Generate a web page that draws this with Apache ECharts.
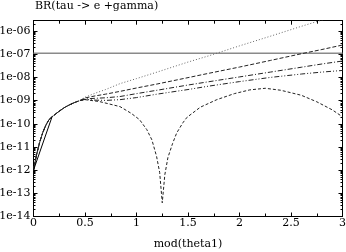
<!DOCTYPE html>
<html>
<head>
<meta charset="utf-8">
<script src="https://cdn.jsdelivr.net/npm/echarts@6/dist/echarts.min.js"></script>
<style>
html,body{margin:0;padding:0;background:#fff;}
#c{width:346px;height:252px;}
</style>
</head>
<body>
<div id="c"></div>
<script>
// ---- data (BR values) ----
const titleText = 'BR(tau -> e +gamma)';
const xName = 'mod(theta1)';
const xTicks = [0, 0.5, 1, 1.5, 2, 2.5, 3];
const yTickExponents = [-14, -13, -12, -11, -10, -9, -8, -7, -6];
const yTop = 2.8e-6;
const yBottom = 1e-14;

// common rising part shared by the curves
const xStart = [0, 0.03, 0.06, 0.09, 0.12, 0.15, 0.18, 0.25, 0.3, 0.35, 0.4, 0.45];
const brStart = [1.0e-12, 4.7e-12, 1.6e-11, 4.2e-11, 8.7e-11, 1.5e-10, 2.0e-10, 3.5e-10, 5.0e-10, 6.6e-10, 8.3e-10, 1.0e-9];

// upper curves
const xUpper = [0.5, 0.6, 0.7, 0.84, 1.0, 1.2, 1.5, 1.7, 2.0, 2.3, 2.6, 2.8, 3.0];
const brDotted = [1.4e-9, 2.1e-9, 3.0e-9, 5.4e-9, 8.9e-9, 1.7e-8, 4.6e-8, 8.5e-8, 2.3e-7, 6.0e-7, 1.6e-6, 3.0e-6, 5.6e-6];
const brDashed = [1.3e-9, 1.6e-9, 1.9e-9, 2.5e-9, 3.5e-9, 5.2e-9, 9.8e-9, 1.5e-8, 2.8e-8, 5.4e-8, 1.05e-7, 1.6e-7, 2.5e-7];
const brDashDot = [1.18e-9, 1.26e-9, 1.32e-9, 1.5e-9, 2.0e-9, 2.8e-9, 4.7e-9, 6.5e-9, 1.05e-8, 1.7e-8, 2.75e-8, 3.8e-8, 5.1e-8];
const brDashDotDot = [1.12e-9, 1.05e-9, 1.02e-9, 1.1e-9, 1.35e-9, 1.9e-9, 3.0e-9, 4.2e-9, 6.6e-9, 1.0e-8, 1.4e-8, 1.7e-8, 2.0e-8];

// lower curve with the dip
const xLower = [0.5, 0.64, 0.84, 0.95, 1.03, 1.1, 1.15, 1.195, 1.225, 1.25, 1.275, 1.305, 1.35, 1.39, 1.45, 1.49, 1.62, 1.78, 1.95, 2.1, 2.25, 2.4, 2.6, 2.75, 2.9, 3.0];
const brLower = [1.1e-9, 9.1e-10, 5.5e-10, 2.8e-10, 1.5e-10, 5.6e-11, 2.0e-11, 3.9e-12, 7.9e-13, 3.9e-14, 6.3e-13, 3.5e-12, 1.4e-11, 4.0e-11, 1.1e-10, 1.9e-10, 5.2e-10, 1.1e-9, 2.0e-9, 2.9e-9, 3.4e-9, 2.8e-9, 1.7e-9, 8.9e-10, 4.0e-10, 2.0e-10];

// solid segment
const xSolid = [0, 0.18];
const brSolid = [1.0e-12, 2.0e-10];

// experimental limit
const xLimit = [0, 3];
const brLimit = [1.1e-7, 1.1e-7];

// ---- build ----
const lg = Math.log10;
function pairs(xs, ys) { return xs.map((x, i) => [x, lg(ys[i])]); }
function withStart(xs, ys) { return pairs(xStart.concat(xs), brStart.concat(ys)); }

const yMin = lg(yBottom), yMax = lg(yTop);
const minorLog = [];
for (const e of yTickExponents) for (let k = 2; k <= 9; k++) { const v = e + lg(k); if (v < yMax) minorLog.push(v); }

const FONT = 'DejaVu Serif';
const txt = { fontFamily: FONT, fontSize: 11, color: '#000' };
function fmtY(v) {
  const r = Math.round(v);
  if (Math.abs(v - r) > 1e-6) return '';
  return '1e' + (r < 0 ? '-' : '+') + String(Math.abs(r)).padStart(2, '0');
}
const axLine = { show: true, lineStyle: { color: '#000', width: 1 } };

function xAx(pos, labels) {
  return {
    type: 'value', position: pos, min: 0, max: 3, interval: 0.5,
    axisLine: axLine,
    axisTick: { show: true, inside: true, length: 4, lineStyle: { color: '#000' } },
    minorTick: { show: true, splitNumber: 2, length: 3, lineStyle: { color: '#000' } },
    splitLine: { show: false }, minorSplitLine: { show: false },
    axisLabel: labels ? Object.assign({ show: true, margin: 1, formatter: v => String(v) }, txt) : { show: false },
    name: labels ? xName : '', nameLocation: 'middle', nameGap: 22, nameTextStyle: txt
  };
}
function yAx(pos, kind) {
  const base = { type: 'value', position: pos, min: yMin, max: yMax, splitLine: { show: false } };
  if (kind === 'major') {
    return Object.assign(base, {
      interval: 1,
      axisLine: axLine,
      axisTick: { show: true, inside: true, length: 4, lineStyle: { color: '#000' } },
      axisLabel: pos === 'left' ? Object.assign({ show: true, margin: 3, formatter: fmtY, showMaxLabel: false }, txt) : { show: false }
    });
  }
  return Object.assign(base, {
    axisLine: { show: false },
    axisTick: { show: true, inside: true, length: 2, customValues: minorLog, lineStyle: { color: '#000' } },
    axisLabel: { show: false }
  });
}

function line(data, dash, color, width) {
  return { type: 'line', data: data, symbol: 'none', silent: true, clip: true,
    lineStyle: { color: color, width: width, type: dash }, xAxisIndex: 0, yAxisIndex: 0 };
}

const chart = echarts.init(document.getElementById('c'), null, { renderer: 'canvas' });
chart.setOption({
  animation: false,
  backgroundColor: '#fff',
  title: { text: titleText, left: 35, top: 1, padding: 0, textStyle: { fontFamily: FONT, fontSize: 11, fontWeight: 'normal', color: '#000' } },
  grid: { left: 33.5, right: 3.5, top: 20.7, bottom: 35.5, containLabel: false, outerBoundsMode: 'none' },
  xAxis: [xAx('bottom', true), xAx('top', false)],
  yAxis: [yAx('left', 'major'), yAx('left', 'minor'), yAx('right', 'major'), yAx('right', 'minor')],
  series: [
    line(pairs(xLimit, brLimit), 'solid', '#8a8a8a', 1.5),
    line(withStart(xUpper, brDotted), [1, 2], '#666', 1),
    line(withStart(xUpper, brDashed), [4, 2], '#222', 1),
    line(withStart(xUpper, brDashDot), [5, 2, 1, 2], '#222', 1),
    line(withStart(xUpper, brDashDotDot), [5, 2, 1, 2, 1, 2], '#222', 1),
    line(withStart(xLower, brLower), [3, 2], '#222', 1),
    line(pairs(xSolid, brSolid), 'solid', '#000', 1)
  ]
});
</script>
</body>
</html>
